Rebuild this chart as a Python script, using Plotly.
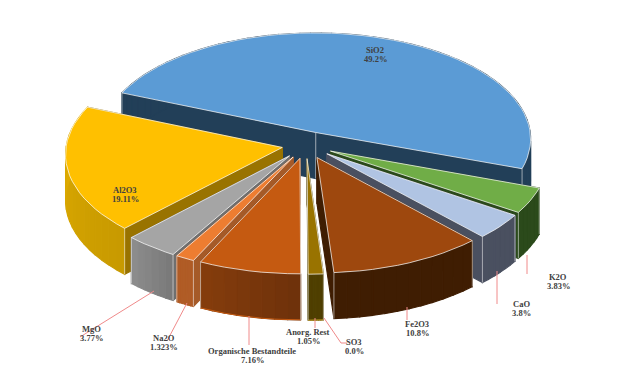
import math
import plotly.graph_objects as go

# ---- data ----
names = ["SiO2", "K2O", "CaO", "Fe2O3", "SO3", "Anorg. Rest", "Organische Bestandteile", "Na2O", "MgO", "Al2O3"]
values = [49.2, 3.83, 3.8, 10.8, 0.0, 1.05, 7.16, 1.323, 3.77, 19.11]
value_labels = ["49.2%", "3.83%", "3.8%", "10.8%", "0.0%", "1.05%", "7.16%", "1.323%", "3.77%", "19.11%"]

# ---- styles ----
top_colors = ["#5b9bd5", "#70ad47", "#b0c4e3", "#9e480e", "#ffc000", "#997300", "#c55a11", "#ed7d31", "#a5a5a5", "#ffc000"]
side_colors = ["#223f58", "#2b4a1b", "#4a5060", "#3f1d02", "#665000", "#4f3f00", "#7a3609", "#a55a28", "#6f6f6f", "#997300"]
rim_from = ["#223f58", "#2b4a1b", "#4a5060", "#3f1d02", "#665000", "#4f3f00", "#6f320b", "#b05c26", "#7a7a7a", "#c89a00"]
rim_to = ["#223f58", "#2b4a1b", "#4a5060", "#3f1d02", "#665000", "#4f3f00", "#843c0c", "#b05c26", "#8c8c8c", "#e3af00"]
rim_edge = [None, None, None, None, None, "#c9a227", "#c55a11", None, None, None]
explode = [0.126, 0.126, 0.126, 0.126, 0.126, 0.126, 0.126, 0.126, 0.126, 0.112]

label_pos = {"SiO2": (375, 50), "K2O": (558, 277), "CaO": (521, 304), "Fe2O3": (417, 324), "SO3": (354, 342),
             "Anorg. Rest": (308, 332), "Organische Bestandteile": (252, 351), "Na2O": (164, 338), "MgO": (91, 329),
             "Al2O3": (125, 190)}
leaders = [[(154, 291), (80, 337)], [(187, 303), (167, 341)], [(249, 316), (249, 345)], [(315, 318), (315, 328)],
           [(324, 318), (341, 343), (347, 343)], [(407, 307), (407, 320)], [(497, 271), (497, 304)], [(527, 255), (527, 274)]]

# ---- projection ----
CX, CY, RX, RY, PERSP, ROT, DEPTH = 306, 145, 216, 107, 0.06, -67.4, 46
PAGE_OFFSET = 8  # the page body margin


def proj(X, Y, z=0):
    p = 1 / (1 + PERSP * Y)
    return CX + RX * X * p, CY - RY * Y * p + z


def hex_mix(a, b, t):
    ca = [int(a[i:i + 2], 16) for i in (1, 3, 5)]
    cb = [int(b[i:i + 2], 16) for i in (1, 3, 5)]
    return "rgb(%d,%d,%d)" % tuple(round(x + (y - x) * t) for x, y in zip(ca, cb))


fig = go.Figure()


def poly(pts, fill, line=None, w=1.1):
    xs = [p[0] for p in pts] + [pts[0][0]]
    ys = [p[1] for p in pts] + [pts[0][1]]
    fig.add_trace(go.Scatter(x=xs, y=ys, mode="lines", fill="toself", fillcolor=fill,
                             line=dict(color=line or fill, width=w), hoverinfo="skip", showlegend=False))


def stroke(pts, color, w):
    fig.add_trace(go.Scatter(x=[p[0] for p in pts], y=[p[1] for p in pts], mode="lines",
                             line=dict(color=color, width=w), hoverinfo="skip", showlegend=False))


total = sum(values)
slices = []
a = ROT
for i, v in enumerate(values):
    span = v / total * 360
    slices.append((i, a, a + span))
    a += span


def depth_key(s):
    mid = math.radians((s[1] + s[2]) / 2)
    return -math.cos(mid)


for i, a0, a1 in sorted(slices, key=depth_key):
    if values[i] == 0:
        continue
    mid = math.radians((a0 + a1) / 2)
    ox, oy = explode[i] * math.sin(mid), explode[i] * math.cos(mid)
    n = max(6, int((a1 - a0) / 3))
    rim = []
    for j in range(n + 1):
        t = math.radians(a0 + (a1 - a0) * j / n)
        rim.append((ox + math.sin(t), oy + math.cos(t)))
    apex = proj(ox, oy)
    apex_b = proj(ox, oy, DEPTH)
    for end in (rim[0], rim[-1]):
        poly([apex, proj(*end), proj(*end, DEPTH), apex_b], side_colors[i])
    for j in range(n):
        col = hex_mix(rim_from[i], rim_to[i], j / max(n - 1, 1))
        poly([proj(*rim[j]), proj(*rim[j + 1]), proj(*rim[j + 1], DEPTH), proj(*rim[j], DEPTH)], col)
    if rim_edge[i]:
        stroke([proj(*r, DEPTH) for r in rim], rim_edge[i], 1)
    for end in (rim[0], rim[-1]):
        stroke([proj(*end), proj(*end, DEPTH)], "rgba(235,235,235,0.75)", 0.8)
    if i == 0:
        stroke([apex, apex_b], "rgba(235,235,235,0.8)", 0.8)
    poly([apex] + [proj(*r) for r in rim], top_colors[i], "rgba(255,255,255,0.8)", 0.9)

for path in leaders:
    stroke(path, "#f08a8a", 1)

annotations = []
for name, pct in zip(names, value_labels):
    x, y = label_pos[name]
    for k, txt in enumerate((name, pct)):
        annotations.append(dict(x=x, y=y + 9 * k, text="<b>%s</b>" % txt, showarrow=False, xref="x", yref="y",
                                xanchor="center", yanchor="middle",
                                font=dict(family="Liberation Serif", size=8.5, color="#404040")))

fig.update_layout(width=632, height=389, margin=dict(l=0, r=0, t=0, b=0), paper_bgcolor="white", plot_bgcolor="white",
                  showlegend=False, annotations=annotations,
                  xaxis=dict(range=[PAGE_OFFSET, 632 + PAGE_OFFSET], visible=False, fixedrange=True),
                  yaxis=dict(range=[389 + PAGE_OFFSET, PAGE_OFFSET], visible=False, fixedrange=True))
fig.write_html("out.html")
